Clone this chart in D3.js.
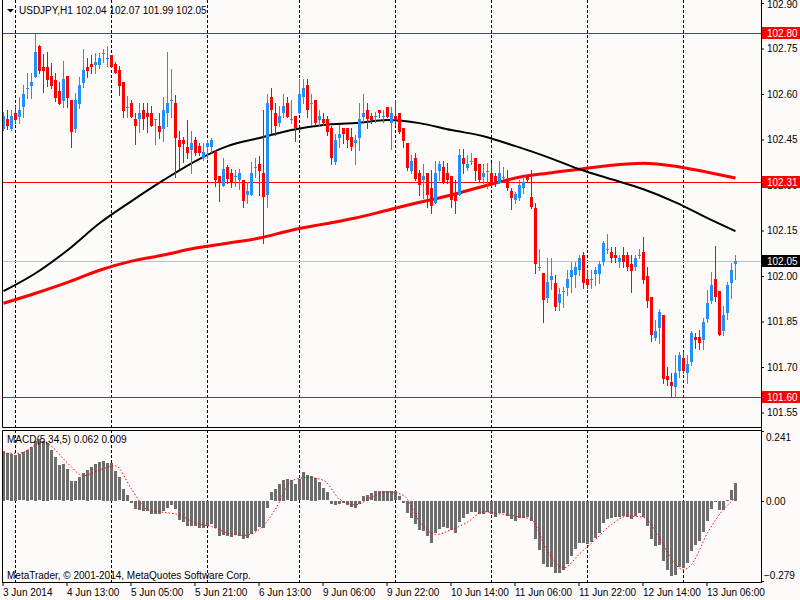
<!DOCTYPE html>
<html>
<head>
<meta charset="utf-8">
<title>USDJPY,H1</title>
<script src="https://cdn.jsdelivr.net/npm/d3@7"></script>
<style>
    body { margin: 0; background: #fffafa; }
    text { font-family: "Liberation Sans", Arial, sans-serif; font-size: 10px; fill: #000; }
</style>
</head>
<body>
<div id="chart-area"></div>
<script>
const symbol = "USDJPY,H1";

// candles, one per hour
const opens = [
    102.484,102.517,102.484,102.537,102.524,102.557,102.616,102.626,102.656,102.758,
    102.689,102.689,102.659,102.646,102.610,102.577,102.659,102.580,102.484,102.567,
    102.636,102.689,102.699,102.696,102.696,102.732,102.715,102.729,102.699,102.679,
    102.639,102.554,102.570,102.517,102.517,102.547,102.537,102.537,102.514,102.494,
    102.484,102.537,102.577,102.570,102.448,102.448,102.425,102.415,102.448,102.428,
    102.389,102.425,102.425,102.408,102.329,102.296,102.359,102.339,102.326,102.316,
    102.316,102.266,102.266,102.356,102.369,102.339,102.266,102.590,102.537,102.504,
    102.537,102.570,102.514,102.527,102.537,102.590,102.630,102.567,102.580,102.514,
    102.517,102.517,102.488,102.375,102.455,102.488,102.488,102.458,102.438,102.455,
    102.524,102.547,102.527,102.524,102.547,102.524,102.557,102.504,102.527,102.537,
    102.488,102.438,102.346,102.389,102.339,102.316,102.339,102.290,102.240,102.346,
    102.359,102.339,102.329,102.270,102.266,102.389,102.356,102.375,102.389,102.369,
    102.326,102.342,102.339,102.329,102.306,102.323,102.319,102.280,102.250,102.257,
    102.290,102.329,102.260,102.224,102.026,102.009,101.927,101.986,101.976,101.910,
    101.946,101.960,101.996,102.003,102.019,102.069,101.989,101.986,102.006,102.006,
    102.045,102.085,102.078,102.069,102.045,102.069,102.069,102.039,102.029,102.065,
    102.078,101.999,101.930,101.795,101.828,101.871,101.669,101.649,101.633,101.686,
    101.729,101.679,101.715,101.798,101.798,101.788,101.857,101.917,101.989,101.950,
    101.818,101.877,101.976,102.040
];
const highs = [
    102.540,102.547,102.547,102.560,102.590,102.630,102.669,102.669,102.798,102.760,
    102.732,102.738,102.702,102.669,102.639,102.709,102.659,102.580,102.603,102.656,
    102.748,102.719,102.729,102.735,102.735,102.748,102.758,102.729,102.705,102.692,
    102.639,102.593,102.580,102.537,102.570,102.570,102.570,102.560,102.517,102.537,
    102.590,102.738,102.682,102.597,102.478,102.458,102.514,102.478,102.458,102.438,
    102.438,102.448,102.455,102.415,102.329,102.389,102.365,102.352,102.349,102.352,
    102.316,102.309,102.375,102.389,102.395,102.547,102.600,102.620,102.570,102.560,
    102.600,102.590,102.580,102.527,102.649,102.649,102.649,102.600,102.580,102.547,
    102.537,102.527,102.494,102.468,102.498,102.488,102.488,102.488,102.465,102.570,
    102.600,102.570,102.537,102.540,102.547,102.547,102.557,102.557,102.580,102.537,
    102.488,102.438,102.399,102.405,102.349,102.369,102.339,102.349,102.379,102.379,
    102.379,102.372,102.329,102.316,102.418,102.418,102.399,102.405,102.389,102.369,
    102.369,102.372,102.372,102.339,102.379,102.359,102.349,102.290,102.276,102.316,
    102.326,102.332,102.349,102.240,102.088,102.009,102.059,102.059,102.003,101.960,
    101.963,102.019,102.045,102.045,102.069,102.078,102.019,102.019,102.029,102.049,
    102.115,102.138,102.095,102.095,102.069,102.095,102.078,102.069,102.069,102.088,
    102.128,102.029,101.930,101.854,101.890,101.871,101.699,101.679,101.738,101.748,
    101.748,101.738,101.818,101.811,101.821,101.861,101.953,102.012,102.098,101.950,
    101.900,101.979,102.042,102.070
];
const lows = [
    102.480,102.484,102.480,102.504,102.504,102.524,102.587,102.587,102.656,102.669,
    102.606,102.626,102.620,102.577,102.567,102.557,102.557,102.425,102.474,102.554,
    102.623,102.656,102.669,102.669,102.686,102.705,102.692,102.689,102.669,102.597,
    102.524,102.524,102.524,102.435,102.474,102.484,102.474,102.494,102.435,102.455,
    102.445,102.494,102.524,102.326,102.356,102.375,102.389,102.339,102.399,102.399,
    102.382,102.389,102.408,102.296,102.247,102.296,102.306,102.293,102.296,102.286,
    102.227,102.240,102.266,102.326,102.266,102.108,102.227,102.471,102.465,102.494,
    102.524,102.524,102.504,102.445,102.537,102.570,102.524,102.498,102.498,102.498,
    102.498,102.465,102.369,102.369,102.425,102.438,102.425,102.415,102.369,102.415,
    102.504,102.488,102.504,102.507,102.524,102.507,102.524,102.418,102.498,102.471,
    102.425,102.349,102.339,102.316,102.266,102.257,102.227,102.207,102.240,102.316,
    102.306,102.306,102.227,102.207,102.266,102.339,102.349,102.369,102.316,102.309,
    102.306,102.290,102.296,102.296,102.306,102.319,102.283,102.220,102.240,102.250,
    102.273,102.313,102.224,102.009,102.019,101.847,101.913,101.956,101.887,101.887,
    101.897,101.936,101.946,101.963,102.003,101.960,101.960,101.960,101.970,101.976,
    102.036,102.075,102.045,102.045,102.029,102.029,102.019,101.946,102.019,102.059,
    101.976,101.897,101.785,101.788,101.778,101.646,101.640,101.600,101.600,101.666,
    101.679,101.646,101.705,101.762,101.758,101.758,101.847,101.910,101.917,101.805,
    101.805,101.857,101.927,101.990
];
const closes = [
    102.527,102.494,102.527,102.514,102.547,102.600,102.620,102.639,102.738,102.676,
    102.676,102.646,102.626,102.587,102.567,102.649,102.587,102.474,102.580,102.630,
    102.679,102.676,102.689,102.705,102.719,102.735,102.719,102.689,102.669,102.626,
    102.544,102.557,102.524,102.494,102.537,102.517,102.524,102.494,102.517,102.474,
    102.547,102.570,102.580,102.455,102.425,102.435,102.405,102.438,102.405,102.405,
    102.408,102.438,102.448,102.316,102.306,102.352,102.319,102.306,102.329,102.339,
    102.247,102.280,102.339,102.359,102.346,102.260,102.570,102.547,102.494,102.527,
    102.560,102.524,102.517,102.488,102.600,102.620,102.547,102.570,102.504,102.527,
    102.504,102.474,102.389,102.448,102.468,102.468,102.448,102.425,102.448,102.517,
    102.537,102.517,102.514,102.527,102.537,102.527,102.524,102.537,102.514,102.474,
    102.445,102.356,102.379,102.319,102.300,102.329,102.266,102.230,102.339,102.369,
    102.309,102.316,102.250,102.247,102.399,102.369,102.369,102.379,102.346,102.316,
    102.339,102.346,102.309,102.309,102.339,102.326,102.290,102.257,102.270,102.300,
    102.309,102.316,102.227,102.039,102.029,101.920,101.979,101.999,101.897,101.940,
    101.950,101.989,102.019,102.029,102.059,101.976,101.970,101.989,102.019,102.039,
    102.108,102.088,102.059,102.059,102.059,102.045,102.029,102.016,102.059,102.069,
    101.986,101.917,101.805,101.818,101.880,101.659,101.656,101.636,101.679,101.738,
    101.686,101.709,101.811,101.788,101.778,101.847,101.910,101.970,101.930,101.805,
    101.871,101.970,102.019,102.050
];

// moving averages, read every 8 bars
const maIdx   = [0, 8, 16, 24, 32, 40, 48, 56, 64, 72, 80, 88, 96, 104, 112, 120, 128, 136, 144, 152, 160, 168, 176, 183];
const maBlack = [101.950, 102.009, 102.085, 102.174, 102.247, 102.316, 102.379, 102.428, 102.455, 102.481, 102.498, 102.504,
                 102.514, 102.504, 102.481, 102.461, 102.428, 102.392, 102.352, 102.319, 102.286, 102.243, 102.191, 102.148];
const maRed   = [101.910, 101.943, 101.979, 102.019, 102.049, 102.069, 102.092, 102.108, 102.125, 102.151, 102.171, 102.191,
                 102.217, 102.243, 102.267, 102.296, 102.323, 102.339, 102.352, 102.365, 102.372, 102.362, 102.342, 102.323];

// MACD(5,34,5)
const macdMain = [
    0.172,0.164,0.162,0.159,0.161,0.168,0.176,0.185,0.208,0.213,
    0.208,0.201,0.174,0.150,0.122,0.127,0.109,0.068,0.066,0.080,
    0.095,0.106,0.115,0.126,0.132,0.138,0.130,0.130,0.104,0.081,
    0.041,0.020,-0.006,-0.027,-0.030,-0.035,-0.035,-0.044,-0.046,-0.044,
    -0.035,-0.023,-0.015,-0.027,-0.065,-0.073,-0.088,-0.088,-0.088,-0.093,
    -0.093,-0.088,-0.081,-0.093,-0.123,-0.119,-0.123,-0.125,-0.117,-0.122,
    -0.131,-0.127,-0.113,-0.104,-0.090,-0.093,-0.023,0.028,0.041,0.058,
    0.072,0.074,0.072,0.058,0.074,0.098,0.087,0.086,0.078,0.063,
    0.043,0.028,-0.009,-0.013,-0.012,-0.007,-0.015,-0.021,-0.023,-0.012,
    0.016,0.020,0.025,0.034,0.034,0.034,0.034,0.033,0.032,0.015,
    -0.008,-0.043,-0.060,-0.081,-0.101,-0.104,-0.120,-0.144,-0.112,-0.097,
    -0.091,-0.093,-0.101,-0.112,-0.074,-0.058,-0.046,-0.037,-0.037,-0.046,
    -0.046,-0.037,-0.046,-0.054,-0.043,-0.043,-0.051,-0.062,-0.069,-0.060,
    -0.058,-0.054,-0.069,-0.132,-0.170,-0.220,-0.228,-0.228,-0.251,-0.248,
    -0.240,-0.220,-0.191,-0.168,-0.145,-0.147,-0.150,-0.141,-0.127,-0.112,
    -0.078,-0.062,-0.058,-0.054,-0.054,-0.051,-0.054,-0.062,-0.051,-0.043,
    -0.054,-0.086,-0.132,-0.155,-0.153,-0.207,-0.240,-0.259,-0.257,-0.228,
    -0.231,-0.216,-0.174,-0.153,-0.139,-0.106,-0.069,-0.028,-0.005,-0.031,
    -0.031,0.002,0.035,0.062
];
const signalIdx = [0, 4, 8, 10, 12, 16, 20, 24, 28, 32, 36, 40, 44, 48, 52, 56, 60, 64, 68, 72, 76, 80, 84, 88, 92, 96,
                   100, 104, 108, 112, 116, 120, 124, 128, 132, 136, 140, 144, 148, 152, 156, 160, 164, 168, 170, 172, 176, 180, 183];
const signalVal = [0.164, 0.164, 0.193, 0.205, 0.188, 0.130, 0.086, 0.106, 0.120, 0.040, -0.032, -0.041, -0.050, -0.079,
                   -0.090, -0.113, -0.121, -0.100, -0.030, 0.068, 0.080, 0.070, 0.005, -0.015, 0.012, 0.030,
                   0.018, -0.072, -0.118, -0.101, -0.075, -0.039, -0.046, -0.054, -0.066, -0.176, -0.234, -0.185,
                   -0.135, -0.083, -0.054, -0.058, -0.130, -0.222, -0.240, -0.222, -0.112, -0.031, 0.009];

// price levels and axis ticks
const redLevels = [102.80, 102.31, 101.60];
const bidLevel = 102.05;
const priceTicks = [101.55, 101.70, 101.85, 102.00, 102.15, 102.30, 102.45, 102.60, 102.75, 102.90];
const macdTicks = [0.241, 0, -0.279];

// bar times: hourly from 3 Jun 2014 21:00, market closed over the weekend
const times = [];
for (let t = new Date(2014, 5, 3, 21); times.length < opens.length; t = d3.timeHour.offset(t, 1)) {
    const day = t.getDay();
    if (day === 0 || day === 6 || (day === 5 && t.getHours() === 23)) continue;
    times.push(t);
}

const full_width = 800, full_height = 600;
const left = 2, axisX = 761, mainBottom = 427, macdTop = 430, macdBottom = 582;

const svg = d3.select("#chart-area").append("svg")
    .attr("width", full_width).attr("height", full_height)
    .style("display", "block");

svg.append("rect").attr("width", full_width).attr("height", full_height).attr("fill", "#fffafa");

const n = opens.length;
const x = d3.scaleLinear().domain([0, n - 1]).range([3.5, 3.5 + 4 * (n - 1)]);
const y = d3.scaleLinear().domain([101.55, 102.90]).range([412.5, 3]);
const ym = d3.scaleLinear().domain([-0.279, 0.241]).range([581, 431]);

// Grid: dashed line at each midnight
const gridIdx = d3.range(1, n).filter(i => times[i].getHours() === 0);
[[0, mainBottom], [macdTop, macdBottom]].forEach(([y0, y1]) => {
    svg.append("g").selectAll("line").data(gridIdx).enter().append("line")
        .attr("x1", i => x(i)).attr("x2", i => x(i))
        .attr("y1", y0).attr("y2", y1)
        .attr("stroke", "#000").attr("stroke-dasharray", "3,2");
});

// Levels
svg.append("line")
    .attr("x1", left).attr("x2", axisX)
    .attr("y1", Math.round(y(bidLevel)) + 0.5).attr("y2", Math.round(y(bidLevel)) + 0.5)
    .attr("stroke", "#c0c0c0");
svg.append("g").selectAll("line").data(redLevels).enter().append("line")
    .attr("x1", left).attr("x2", axisX)
    .attr("y1", d => Math.round(y(d)) + 0.5).attr("y2", d => Math.round(y(d)) + 0.5)
    .attr("stroke", "#ff0000");

// Moving averages
const maLine = vals => d3.line()
    .x((d, k) => x(maIdx[k]))
    .y(d => y(d))
    .curve(d3.curveMonotoneX)(vals);

svg.append("path").attr("d", maLine(maRed))
    .attr("fill", "none").attr("stroke", "#ff0000").attr("stroke-width", 3);
svg.append("path").attr("d", maLine(maBlack))
    .attr("fill", "none").attr("stroke", "#000").attr("stroke-width", 2);

// Candles
const bars = svg.append("g").selectAll("g").data(d3.range(n)).enter().append("g")
    .attr("fill", i => closes[i] >= opens[i] ? "#1e90ff" : "#ff0000")
    .attr("stroke", i => closes[i] >= opens[i] ? "#1e90ff" : "#ff0000");

bars.append("line")
    .attr("x1", i => x(i)).attr("x2", i => x(i))
    .attr("y1", i => Math.round(y(highs[i]))).attr("y2", i => Math.round(y(lows[i])) + 1);

bars.append("rect")
    .attr("stroke", "none")
    .attr("x", i => x(i) - 1.5)
    .attr("width", 3)
    .attr("y", i => Math.round(y(Math.max(opens[i], closes[i]))))
    .attr("height", i => Math.max(1, Math.round(Math.abs(y(opens[i]) - y(closes[i])))));

// MACD histogram
svg.append("g").selectAll("rect").data(macdMain).enter().append("rect")
    .attr("x", (d, i) => x(i) - 1.5)
    .attr("width", 3)
    .attr("y", d => Math.round(Math.min(ym(d), ym(0))))
    .attr("height", d => Math.max(1, Math.round(Math.abs(ym(d) - ym(0)))))
    .attr("fill", "#6d6d6d");

// MACD signal
svg.append("path")
    .attr("d", d3.line().x((d, k) => x(signalIdx[k])).y(d => ym(d)).curve(d3.curveMonotoneX)(signalVal))
    .attr("fill", "none").attr("stroke", "#ff0000").attr("stroke-dasharray", "1.5,2");

// Frames
svg.append("path")
    .attr("d", `M${left + 0.5},0V${mainBottom + 0.5}H${axisX + 0.5}M${left + 0.5},${macdTop + 0.5}V${macdBottom + 0.5}H${axisX + 0.5}V${macdTop + 0.5}H${left + 0.5}M${axisX + 0.5},0V${macdBottom + 0.5}`)
    .attr("fill", "none").attr("stroke", "#000");

// Price axis
const yAxisCall = d3.axisRight(y).tickValues(priceTicks).tickFormat(d3.format(".2f")).tickSize(3).tickPadding(3);
svg.append("g")
    .attr("class", "y-axis")
    .attr("transform", "translate(" + axisX + ", 0)")
    .call(yAxisCall)
    .call(g => g.select(".domain").remove())
    .call(g => g.selectAll("text").attr("font-size", "10px").attr("font-family", null))
    .call(g => g.selectAll(".tick").filter(d => d === 102.90).select("text").attr("y", 1.5));

// MACD axis
const macdAxis = svg.append("g").attr("transform", "translate(" + axisX + ", 0)");
macdAxis.selectAll("line").data(macdTicks).enter().append("line")
    .attr("x1", 0).attr("x2", 3)
    .attr("y1", d => Math.round(ym(d)) + 0.5).attr("y2", d => Math.round(ym(d)) + 0.5)
    .attr("stroke", "#000");
macdAxis.selectAll("text").data(macdTicks).enter().append("text")
    .attr("x", d => d < 0 ? 3 : 5)
    .attr("y", d => d === macdTicks[0] ? ym(d) + 10 : d === 0 ? ym(d) + 4 : ym(d) - 2)
    .text(d => d === 0 ? "0.00" : d3.format(".3f")(d));

// Level labels
const tags = redLevels.map(v => ({ v: v, bg: "#ff0000" })).concat([{ v: bidLevel, bg: "#000" }]);
const tag = svg.append("g").selectAll("g").data(tags).enter().append("g")
    .attr("transform", d => "translate(" + (axisX + 1) + ", " + Math.round(y(d.v)) + ")");
tag.append("rect").attr("x", 0).attr("y", -6).attr("width", 38).attr("height", 12).attr("fill", d => d.bg);
tag.append("text").attr("x", 5).attr("y", 4).style("fill", "#fff").text(d => d3.format(".2f")(d.v));

// Time axis
const labelIdx = d3.range(0, n, 16);
const fmtFirst = d3.timeFormat("%-d %b %Y"), fmtTime = d3.timeFormat("%-d %b %H:%M");
const xAxisCall = d3.axisBottom(x).tickValues(labelIdx).tickSize(4).tickPadding(3)
    .tickFormat(i => i === 0 ? fmtFirst(times[i]) : fmtTime(times[i]));
svg.append("g")
    .attr("class", "x-axis")
    .attr("transform", "translate(-1, " + macdBottom + ")")
    .call(xAxisCall)
    .call(g => g.select(".domain").remove())
    .call(g => g.selectAll("text").attr("text-anchor", "start").attr("x", 0).attr("font-size", "10px").attr("font-family", null));

// Header
svg.append("path").attr("d", "M7,9H14L10.5,12.5Z").attr("fill", "#000");
svg.append("text").attr("x", 19).attr("y", 14).text(symbol);
svg.append("text").attr("x", 76).attr("y", 14)
    .text([opens[n - 1], highs[n - 1], lows[n - 1], closes[n - 1]].map(d3.format(".2f")).join(" "));

// MACD Label
svg.append("text").attr("x", 7).attr("y", 443)
    .text("MACD(5,34,5) " + d3.format(".3f")(macdMain[n - 1]) + " " + d3.format(".3f")(signalVal[signalVal.length - 1]));

svg.append("text").attr("x", 7).attr("y", 579).text("MetaTrader, \u00a9 2001-2014, MetaQuotes Software Corp.");
</script>
</body>
</html>
